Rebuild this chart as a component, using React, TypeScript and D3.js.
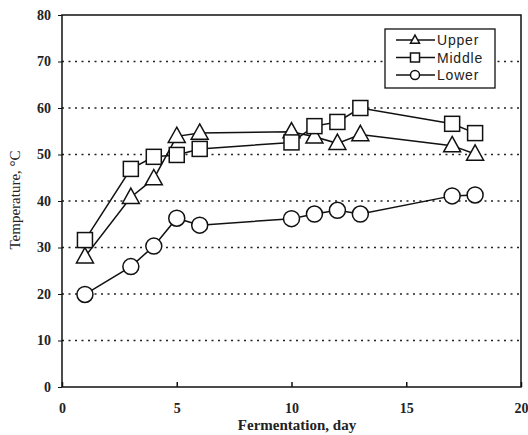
import * as d3 from "d3";
import { useEffect, useRef } from "react";

const days = [1, 3, 4, 5, 6, 10, 11, 12, 13, 17, 18];
const upper = [28, 40.8, 44.8, 53.9, 54.6, 54.9, 53.8, 52.4, 54.3, 51.9, 50.1];
const middle = [31.6, 46.9, 49.5, 49.9, 51.2, 52.6, 56.1, 57, 60, 56.6, 54.6];
const lower = [19.9, 25.9, 30.3, 36.3, 34.8, 36.2, 37.2, 38, 37.2, 41.1, 41.3];
const seriesNames = ["Upper", "Middle", "Lower"];
const xTicks = [0, 5, 10, 15, 20];
const yTicks = [0, 10, 20, 30, 40, 50, 60, 70, 80];

export default function App() {
  const ref = useRef(null);

  useEffect(() => {
    const svg = d3.select(ref.current);
    svg.selectAll("*").remove();

    const margin = { top: 15, right: 7, bottom: 48, left: 62 };
    const width = 528 - margin.left - margin.right;
    const height = 435 - margin.top - margin.bottom;

    const x = d3.scaleLinear().domain([0, 20]).range([0, width]);
    const y = d3.scaleLinear().domain([0, 80]).range([height, 0]);

    const g = svg.append("g").attr("transform", "translate(" + margin.left + "," + margin.top + ")");

    // dotted grid
    g.selectAll(".grid")
      .data(yTicks.filter((t) => t > 0 && t < 80))
      .enter()
      .append("line")
      .attr("x1", 0)
      .attr("x2", width)
      .attr("y1", (d) => y(d))
      .attr("y2", (d) => y(d))
      .attr("stroke", "#222")
      .attr("stroke-width", 1.6)
      .attr("stroke-dasharray", "2,4.5");

    // frame
    g.append("rect")
      .attr("width", width)
      .attr("height", height)
      .attr("fill", "none")
      .attr("stroke", "#111")
      .attr("stroke-width", 1.5);

    const serif = "'Liberation Serif', 'DejaVu Serif', serif";

    // y axis
    const yAxis = g.append("g").call(d3.axisLeft(y).tickValues(yTicks).tickSize(4).tickFormat(d3.format("d")));
    yAxis.select(".domain").remove();
    yAxis.selectAll("line").attr("stroke", "#111");
    yAxis.selectAll("text")
      .attr("font-family", serif)
      .attr("font-size", 14)
      .attr("font-weight", "bold")
      .attr("fill", "#222")
      .attr("x", -11);

    // x axis (ticks inward)
    const xAxis = g.append("g")
      .attr("transform", "translate(0," + height + ")")
      .call(d3.axisBottom(x).tickValues(xTicks).tickSize(-5).tickPadding(16).tickFormat(d3.format("d")));
    xAxis.select(".domain").remove();
    xAxis.selectAll("line").attr("stroke", "#111").attr("stroke-width", 1.5);
    xAxis.selectAll("text")
      .attr("font-family", serif)
      .attr("font-size", 14)
      .attr("font-weight", "bold")
      .attr("fill", "#222");

    svg.append("text")
      .attr("x", 297)
      .attr("y", 430)
      .attr("text-anchor", "middle")
      .attr("font-family", serif)
      .attr("font-size", 15)
      .attr("font-weight", "bold")
      .attr("fill", "#222")
      .text("Fermentation, day");

    svg.append("text")
      .attr("transform", "translate(20,200) rotate(-90)")
      .attr("text-anchor", "middle")
      .attr("font-family", serif)
      .attr("font-size", 15)
      .attr("fill", "#222")
      .text("Temperature, °C");

    const line = d3.line()
      .x((d) => x(d[0]))
      .y((d) => y(d[1]));

    const triangle = (s) => {
      const h = s * 0.9;
      return "M0," + (-h * 0.6) + "L" + s / 2 + "," + h * 0.4 + "L" + -s / 2 + "," + h * 0.4 + "Z";
    };

    const drawMarker = (sel, kind, size) => {
      if (kind === "Upper") {
        sel.append("path").attr("d", triangle(size));
      } else if (kind === "Middle") {
        sel.append("rect")
          .attr("x", -size / 2)
          .attr("y", -size / 2)
          .attr("width", size)
          .attr("height", size);
      } else {
        sel.append("circle").attr("r", size / 2);
      }
      sel.selectAll("*").attr("fill", "white").attr("stroke", "#111").attr("stroke-width", 1.5);
    };

    const allSeries = [upper, middle, lower];
    allSeries.forEach((vals) => {
      const pts = days.map((dd, j) => [dd, vals[j]]);
      g.append("path")
        .datum(pts)
        .attr("fill", "none")
        .attr("stroke", "#111")
        .attr("stroke-width", 1.5)
        .attr("d", line);
    });
    allSeries.forEach((vals, i) => {
      days.forEach((dd, j) => {
        const m = g.append("g").attr("transform", "translate(" + x(dd) + "," + y(vals[j]) + ")");
        drawMarker(m, seriesNames[i], i === 2 ? 16 : i === 0 ? 17 : 15);
      });
    });

    // legend
    const lg = svg.append("g").attr("transform", "translate(385,29)");
    lg.append("rect")
      .attr("width", 110)
      .attr("height", 59)
      .attr("fill", "white")
      .attr("stroke", "#111")
      .attr("stroke-width", 1.3);
    seriesNames.forEach((name, i) => {
      const yy = 11 + i * 17.5;
      lg.append("line")
        .attr("x1", 11)
        .attr("x2", 50)
        .attr("y1", yy)
        .attr("y2", yy)
        .attr("stroke", "#111")
        .attr("stroke-width", 1.3);
      const m = lg.append("g").attr("transform", "translate(30," + yy + ")");
      drawMarker(m, name, 9);
      lg.append("text")
        .attr("x", 52)
        .attr("y", yy + 5)
        .attr("font-family", "'Liberation Sans', Arial, sans-serif")
        .attr("font-size", 14)
        .attr("letter-spacing", 0.8)
        .attr("fill", "#222")
        .text(name);
    });
  }, []);

  return <svg ref={ref} width={528} height={435} style={{ position: "absolute", left: 0, top: 0, background: "white" }} />;
}
